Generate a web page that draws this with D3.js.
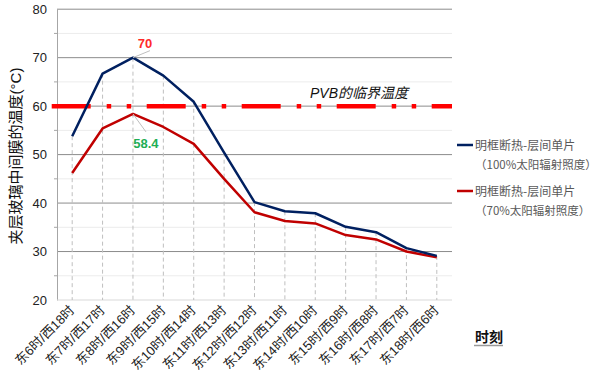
<!DOCTYPE html>
<html><head><meta charset="utf-8">
<script src="https://cdn.jsdelivr.net/npm/d3@7"></script>
<style>body{margin:0;background:#fff}svg{display:block}</style>
</head><body>
<svg id="c" width="600" height="388"></svg>
<script>
const categories = ["东6时/西18时","东7时/西17时","东8时/西16时","东9时/西15时","东10时/西14时","东11时/西13时","东12时/西12时","东13时/西11时","东14时/西10时","东15时/西9时","东16时/西8时","东17时/西7时","东18时/西6时"];
const series100 = [53.8,66.7,70,66.3,60.9,50.4,40.2,38.3,37.9,35.1,34.0,30.7,29.1];
const series70 = [46.2,55.4,58.4,55.7,52.2,45.0,38.1,36.3,35.8,33.4,32.5,30.0,28.8];
const seriesNames = [["明框断热-层间单片","（100%太阳辐射照度）"],["明框断热-层间单片","（70%太阳辐射照度）"]];
const threshold = 60;
const yTicks = [20,30,40,50,60,70,80];
const yMinor = [25,35,45,55,65,75];

const svg = d3.select("#c");
const L = 57, R = 452, T = 9.2, B = 300;
const x = d3.scaleBand().domain(categories).range([L, R]);
const cx = d => x(d) + x.bandwidth()/2;
const y = d3.scaleLinear().domain([20,80]).range([B, T]);
const font = "'Liberation Sans', Arial, sans-serif";
const mixed = "'Liberation Sans', 'Noto Sans CJK SC', sans-serif";
const cjk = "'Noto Sans CJK SC', sans-serif";

svg.append("g").selectAll("line").data(yMinor).join("line")
  .attr("x1", L).attr("x2", R).attr("y1", d=>y(d)).attr("y2", d=>y(d))
  .attr("stroke", "#ececec").attr("stroke-width", 1);
svg.append("g").selectAll("line").data(yTicks.filter(d=>d>20)).join("line")
  .attr("x1", L).attr("x2", R).attr("y1", d=>y(d)).attr("y2", d=>y(d))
  .attr("stroke", "#8c8c8c").attr("stroke-width", 1);

const yAxis = d3.axisLeft(y).tickValues(yTicks).tickSize(0).tickPadding(10);
const ga = svg.append("g").attr("transform", `translate(${L},0)`).call(yAxis);
ga.select(".domain").attr("stroke", "#a6a6a6");
ga.selectAll("text").attr("font-family", font).attr("font-size", 13).attr("fill", "#222");
svg.append("g").selectAll("line").data(yMinor).join("line")
  .attr("x1", L-3).attr("x2", L).attr("y1", d=>y(d)).attr("y2", d=>y(d))
  .attr("stroke", "#a6a6a6");
svg.append("line").attr("x1", L).attr("x2", R).attr("y1", B).attr("y2", B).attr("stroke", "#d9d9d9");

svg.append("g").selectAll("line").data(categories).join("line")
  .attr("x1", d=>cx(d)).attr("x2", d=>cx(d))
  .attr("y1", (d,i)=>y(Math.max(series70[i], series100[i]))).attr("y2", B)
  .attr("stroke", "#bfbfbf").attr("stroke-width", 1).attr("stroke-dasharray", "4,3");

const gx = svg.append("g");
categories.forEach(c => {
  gx.append("text").attr("transform", `translate(${cx(c)+3},${B+11}) rotate(-45)`)
    .attr("text-anchor", "end").attr("font-family", mixed).attr("font-size", 13)
    .attr("fill", "#222").text(c);
});

svg.append("line").attr("x1", 51.7).attr("x2", R).attr("y1", y(threshold)).attr("y2", y(threshold))
  .attr("stroke", "#ff0000").attr("stroke-width", 4.5).attr("stroke-dasharray", "39,16,4.5,15.5,4.5,15.5");
svg.append("text").attr("x", 359).attr("y", 97.5).attr("text-anchor", "middle")
  .attr("font-family", mixed).attr("font-style", "italic").attr("font-size", 14).attr("fill", "#111")
  .text("PVB的临界温度");

const line = d3.line().x((d,i)=>cx(categories[i])).y(d=>y(d));
svg.append("path").datum(series70).attr("d", line).attr("fill", "none")
  .attr("stroke", "#c00000").attr("stroke-width", 2.5).attr("stroke-linejoin", "round");
svg.append("path").datum(series100).attr("d", line).attr("fill", "none")
  .attr("stroke", "#002060").attr("stroke-width", 2.5).attr("stroke-linejoin", "round");

const pk = 2;
svg.append("line").attr("x1", cx(categories[pk])).attr("y1", y(series100[pk]))
  .attr("x2", cx(categories[pk])+17).attr("y2", y(series100[pk])-7).attr("stroke", "#bfbfbf");
svg.append("text").attr("x", cx(categories[pk])+12).attr("y", 48).attr("text-anchor", "middle")
  .attr("font-family", font).attr("font-weight", "bold").attr("font-size", 13).attr("fill", "#ff2a2a")
  .text(series100[pk]);
svg.append("line").attr("x1", cx(categories[pk])).attr("y1", y(series70[pk]))
  .attr("x2", cx(categories[pk])+13).attr("y2", y(series70[pk])+18).attr("stroke", "#bfbfbf");
svg.append("text").attr("x", cx(categories[pk])+13).attr("y", 148).attr("text-anchor", "middle")
  .attr("font-family", font).attr("font-weight", "bold").attr("font-size", 13).attr("fill", "#1fae55")
  .text(series70[pk]);

svg.append("text").attr("transform", "translate(21,156) rotate(-90)").attr("text-anchor", "middle")
  .attr("font-family", mixed).attr("font-size", 15).attr("fill", "#111")
  .text("夹层玻璃中间膜的温度(°C)");

const colors = ["#002060", "#c00000"];
const ly = [145, 191];
seriesNames.forEach((n, i) => {
  svg.append("line").attr("x1", 457).attr("x2", 473).attr("y1", ly[i]).attr("y2", ly[i])
    .attr("stroke", colors[i]).attr("stroke-width", 2.5);
  svg.append("text").attr("x", 475).attr("y", ly[i]+4.5).attr("font-family", cjk).attr("font-size", 12)
    .attr("fill", "#595959").text(n[0]);
  svg.append("text").attr("x", 475).attr("y", ly[i]+24).attr("font-family", cjk).attr("font-size", 11.5)
    .attr("fill", "#595959").text(n[1]);
});

svg.append("text").attr("x", 475).attr("y", 342).attr("font-family", cjk).attr("font-size", 14)
  .attr("font-weight", "bold").attr("fill", "#111").text("时刻");
svg.append("line").attr("x1", 474).attr("x2", 503).attr("y1", 345.5).attr("y2", 345.5)
  .attr("stroke", "#999").attr("stroke-width", 1.5);
</script>
</body></html>
